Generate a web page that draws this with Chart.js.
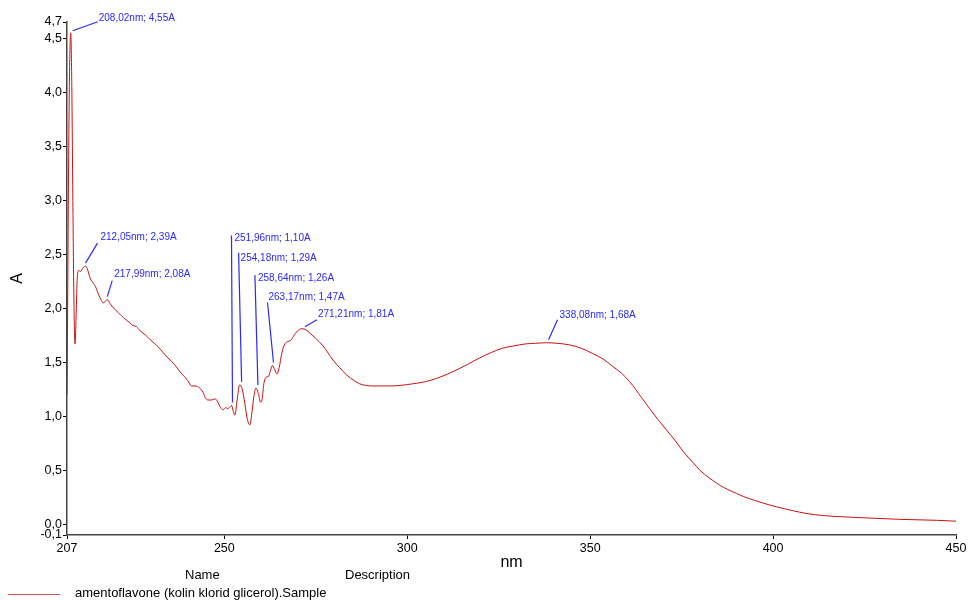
<!DOCTYPE html>
<html>
<head>
<meta charset="utf-8">
<script src="https://cdn.jsdelivr.net/npm/chart.js@4.4.1/dist/chart.umd.min.js"></script>
<style>
  html, body { margin: 0; padding: 0; background: #fff; }
  #wrap { position: relative; width: 971px; height: 600px; font-family: "Liberation Sans", Arial, sans-serif; }
  canvas { position: absolute; left: 0; top: 0; }
  .lg { position: absolute; font-size: 13px; color: #000; white-space: nowrap; line-height: 15px; }
  #lgline { position: absolute; left: 8px; top: 594px; width: 52px; height: 0; border-top: 1px solid #d85050; }
</style>
</head>
<body>
<div id="wrap">
  <canvas id="c" width="971" height="600"></canvas>
  <div class="lg" style="left:185px; top:567px;">Name</div>
  <div class="lg" style="left:345px; top:567px;">Description</div>
  <div id="lgline"></div>
  <div class="lg" style="left:75px; top:585px;">amentoflavone (kolin klorid glicerol).Sample</div>
</div>
<script>
// ---- data ----
const wavelengthNm = [
  207.0, 207.25, 207.5, 207.75, 208.02, 208.3, 208.6, 208.9, 209.2, 209.5,
  209.8, 210.2, 210.7, 211.3, 212.05, 212.7, 213.3, 214.0, 214.8, 215.6,
  216.4, 216.9, 217.4, 217.99, 218.8, 219.8, 221.0, 222.5, 224.0, 225.0,
  226.0, 227.0, 228.5, 229.7, 231.0, 232.0, 233.0, 234.3, 235.5, 236.8,
  237.9, 239.0, 240.0, 241.1, 242.0, 243.3, 244.2, 244.8, 245.5, 246.5,
  247.5, 248.1, 248.8, 249.6, 250.4, 250.9, 251.4, 251.96, 252.5, 252.9,
  253.5, 254.18, 254.9, 255.6, 256.3, 257.0, 257.6, 258.1, 258.64, 259.3,
  259.9, 260.3, 260.8, 261.4, 262.1, 262.6, 263.17, 263.8, 264.4, 265.0,
  265.7, 266.4, 267.2, 268.1, 268.9, 270.0, 271.21, 272.3, 273.4, 275.0,
  277.0, 279.7, 281.5, 283.5, 285.5, 287.0, 290.6, 295.3, 298.0, 301.5,
  305.0, 308.0, 311.0, 313.6, 316.5, 319.8, 323.0, 326.1, 329.0, 332.5,
  335.0, 338.08, 341.0, 344.4, 347.5, 350.7, 353.5, 356.2, 358.5, 360.8,
  364.1, 368.5, 373.1, 375.5, 378.0, 380.0, 382.5, 384.6, 386.5, 390.0,
  392.0, 395.0, 398.3, 401.0, 405.4, 409.0, 413.6, 418.0, 422.9, 434.6,
  444.7, 450.0
];
const absorbance = [
  1.20, 2.40, 3.60, 4.30, 4.55, 4.10, 3.00, 2.05, 1.67, 1.95,
  2.28, 2.35, 2.34, 2.37, 2.39, 2.35, 2.28, 2.24, 2.20, 2.13,
  2.07, 2.05, 2.06, 2.08, 2.04, 2.00, 1.96, 1.91, 1.87, 1.84,
  1.83, 1.79, 1.75, 1.71, 1.67, 1.64, 1.60, 1.55, 1.51, 1.46,
  1.41, 1.37, 1.33, 1.28, 1.28, 1.26, 1.22, 1.17, 1.15, 1.15,
  1.16, 1.14, 1.09, 1.06, 1.08, 1.07, 1.08, 1.10, 1.04, 1.01,
  1.15, 1.29, 1.25, 1.12, 0.97, 0.92, 1.05, 1.19, 1.26, 1.21,
  1.13, 1.15, 1.30, 1.36, 1.37, 1.42, 1.47, 1.43, 1.39, 1.45,
  1.58, 1.66, 1.69, 1.70, 1.74, 1.79, 1.81, 1.80, 1.77, 1.72,
  1.65, 1.52, 1.45, 1.38, 1.33, 1.30, 1.28, 1.28, 1.285, 1.30,
  1.32, 1.35, 1.39, 1.43, 1.48, 1.54, 1.59, 1.63, 1.65, 1.67,
  1.675, 1.68, 1.675, 1.66, 1.63, 1.58, 1.53, 1.46, 1.40, 1.32,
  1.17, 0.97, 0.78, 0.67, 0.575, 0.50, 0.43, 0.38, 0.34, 0.285,
  0.255, 0.22, 0.185, 0.16, 0.125, 0.10, 0.08, 0.07, 0.062, 0.045,
  0.036, 0.028
];
const seriesName = "amentoflavone (kolin klorid glicerol).Sample";

const peakNm = [208.02, 212.05, 217.99, 251.96, 254.18, 258.64, 263.17, 271.21, 338.08];
const peakA  = [4.55, 2.39, 2.08, 1.10, 1.29, 1.26, 1.47, 1.81, 1.68];
const peakLabels = [
  "208,02nm; 4,55A", "212,05nm; 2,39A", "217,99nm; 2,08A", "251,96nm; 1,10A",
  "254,18nm; 1,29A", "258,64nm; 1,26A", "263,17nm; 1,47A", "271,21nm; 1,81A",
  "338,08nm; 1,68A"
];

const xTicks = [207, 250, 300, 350, 400, 450];
const xTickLabels = ["207", "250", "300", "350", "400", "450"];
const yTicks = [-0.1, 0.0, 0.5, 1.0, 1.5, 2.0, 2.5, 3.0, 3.5, 4.0, 4.5, 4.65];
const yTickLabels = ["-0,1", "0,0", "0,5", "1,0", "1,5", "2,0", "2,5", "3,0", "3,5", "4,0", "4,5", "4,7"];

// ---- label layout (pixel offsets from each peak point): line start, line end, text anchor ----
const labelLayout = [
  {s:[2,-2], e:[27,-11], t:[28,-15]},
  {s:[0,-3], e:[12,-23], t:[15,-29]},
  {s:[0,-3], e:[5,-19],  t:[7,-25]},
  {s:[1,-3], e:[0,-170], t:[3,-167]},
  {s:[2,-3], e:[-1,-132], t:[1,-127]},
  {s:[2,-3], e:[-1,-113], t:[2,-110]},
  {s:[1,-3], e:[-5,-63], t:[-4,-68]},
  {s:[3,-2], e:[15,-9],  t:[16,-14]},
  {s:[2,-3], e:[11,-23], t:[13,-28]}
];

const points = wavelengthNm.map((x, i) => ({x: x, y: absorbance[i]}));

const peakPlugin = {
  id: 'peaks',
  afterDatasetsDraw(chart) {
    const ctx = chart.ctx;
    const xs = chart.scales.x, ys = chart.scales.y;
    ctx.save();
    ctx.strokeStyle = '#2a2aff';
    ctx.fillStyle = '#2a2aff';
    ctx.lineWidth = 1.2;
    ctx.font = '10px "Liberation Sans", Arial, sans-serif';
    ctx.textBaseline = 'middle';
    ctx.textAlign = 'left';
    peakNm.forEach((nm, i) => {
      const px = xs.getPixelForValue(nm);
      const py = ys.getPixelForValue(peakA[i]);
      const L = labelLayout[i];
      ctx.beginPath();
      ctx.moveTo(px + L.s[0], py + L.s[1]);
      ctx.lineTo(px + L.e[0], py + L.e[1]);
      ctx.stroke();
      ctx.fillText(peakLabels[i], px + L.t[0], py + L.t[1]);
    });
    ctx.restore();
  }
};

new Chart(document.getElementById('c'), {
  type: 'line',
  data: {
    datasets: [{
      label: seriesName,
      data: points,
      borderColor: '#cc1010',
      borderWidth: 1,
      pointRadius: 0,
      fill: false,
      cubicInterpolationMode: 'monotone'
    }]
  },
  options: {
    responsive: false,
    animation: false,
    layout: { padding: { top: 22, right: 15, left: 0, bottom: 0 } },
    plugins: { legend: { display: false }, tooltip: { enabled: false } },
    scales: {
      x: {
        type: 'linear',
        min: 207, max: 450,
        afterBuildTicks: (s) => { s.ticks = xTicks.map(v => ({value: v})); },
        afterFit: (s) => { s.height = 65; },
        ticks: {
          autoSkip: false, maxRotation: 0, padding: 2, color: '#000',
          font: { size: 12.5, family: '"Liberation Sans", Arial, sans-serif' },
          callback: (v) => { const k = xTicks.indexOf(v); return k >= 0 ? xTickLabels[k] : ''; }
        },
        grid: { display: true, drawOnChartArea: false, drawTicks: true, tickLength: 4, color: '#000' },
        border: { display: true, color: '#444', width: 1.5 },
        title: { display: true, text: 'nm', color: '#000', padding: { top: 0, bottom: 28 },
                 font: { size: 16, family: '"Liberation Sans", Arial, sans-serif' } }
      },
      y: {
        type: 'linear',
        min: -0.1, max: 4.65,
        afterBuildTicks: (s) => { s.ticks = yTicks.map(v => ({value: v})); },
        afterFit: (s) => { s.width = 67; },
        ticks: {
          autoSkip: false, padding: 1, color: '#000',
          font: { size: 12.5, family: '"Liberation Sans", Arial, sans-serif' },
          callback: (v) => { const k = yTicks.findIndex(t => Math.abs(t - v) < 1e-9); return k >= 0 ? yTickLabels[k] : ''; }
        },
        grid: { display: true, drawOnChartArea: false, drawTicks: true, tickLength: 4, color: '#000' },
        border: { display: true, color: '#444', width: 1.5 },
        title: { display: true, text: 'A', color: '#000', padding: { top: 8, bottom: 0 },
                 font: { size: 16, family: '"Liberation Sans", Arial, sans-serif' } }
      }
    }
  },
  plugins: [peakPlugin]
});
</script>
</body>
</html>
